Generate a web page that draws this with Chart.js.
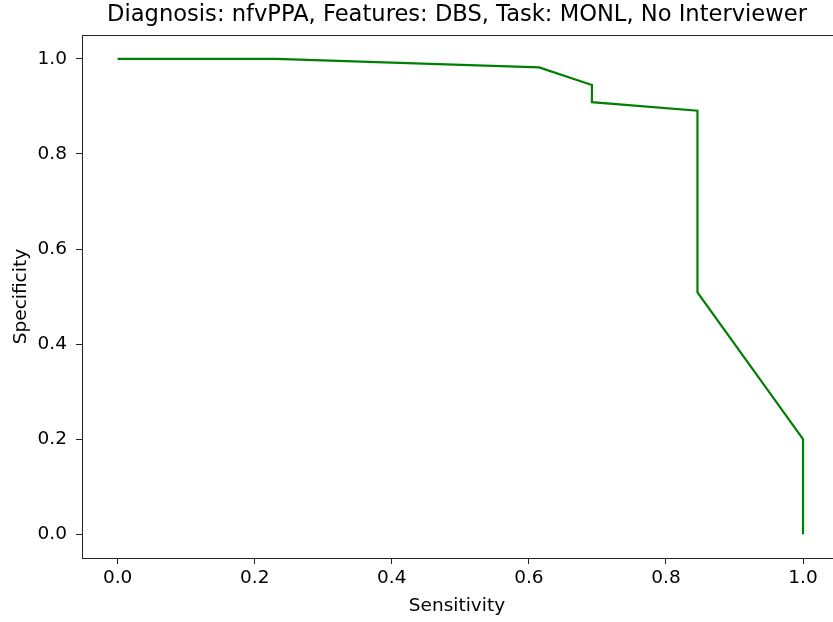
<!DOCTYPE html>
<html>
<head>
<meta charset="utf-8">
<script src="https://cdn.jsdelivr.net/npm/chart.js@4"></script>
<style>
  html, body { margin: 0; padding: 0; background: #fff; }
  #wrap { width: 833px; height: 622px; }
</style>
</head>
<body>
<div id="wrap"><canvas id="roc" width="833" height="622"></canvas></div>
<script>
// values
const sensitivity = [0.0, 0.231, 0.615, 0.692, 0.692, 0.846, 0.846, 1.0, 1.0];
const specificity = [1.0, 1.0, 0.982, 0.945, 0.909, 0.891, 0.509, 0.2, 0.0];
const tickValues = [0.0, 0.2, 0.4, 0.6, 0.8, 1.0];

const titleText = "Diagnosis: nfvPPA, Features: DBS, Task: MONL, No Interviewer";
const fontFamily = "'DejaVu Sans', sans-serif";
const tickSize = 18.5;

Chart.defaults.font.family = fontFamily;
Chart.defaults.color = "#000";

// matplotlib style box, right edge falls just outside the picture
const frame = {
    id: "frame",
    afterDraw(chart) {
        let a = chart.chartArea;
        let ctx = chart.ctx;
        ctx.save();
        ctx.strokeStyle = "#222";
        ctx.lineWidth = 1;
        ctx.strokeRect(Math.round(a.left) + 0.5, Math.round(a.top) + 0.5,
            Math.round(a.right - a.left) + 6, Math.round(a.bottom - a.top));
        ctx.restore();
    }
};

function fixedTicks(scale) {
    scale.ticks = tickValues.map(v => ({ value: v }));
}

const points = sensitivity.map((x, i) => ({ x: x, y: specificity[i] }));

new Chart(document.getElementById("roc"), {
    type: "scatter",
    data: {
        datasets: [{
            data: points,
            showLine: true,
            borderColor: "#008000",
            borderWidth: 2.2,
            pointRadius: 0,
            tension: 0,
            fill: false
        }]
    },
    options: {
        responsive: false,
        animation: false,
        layout: { padding: { left: 0, right: 1, top: 0, bottom: 0 } },
        plugins: {
            legend: { display: false },
            tooltip: { enabled: false },
            title: {
                display: true,
                text: titleText,
                fullSize: false,
                font: { size: 22.6, weight: "normal", family: fontFamily },
                color: "#000",
                padding: { top: 2, bottom: 6 }
            }
        },
        scales: {
            x: {
                type: "linear",
                min: -0.052,
                max: 1.0423,
                afterBuildTicks: fixedTicks,
                afterFit(scale) { scale.height = 64; },
                grid: {
                    drawOnChartArea: false,
                    drawTicks: true,
                    tickLength: 6,
                    tickColor: "#222"
                },
                border: { display: true, color: "#222" },
                ticks: {
                    font: { size: tickSize },
                    padding: 3,
                    maxRotation: 0,
                    callback: v => v.toFixed(1)
                },
                title: {
                    display: true,
                    text: "Sensitivity",
                    font: { size: tickSize },
                    padding: { top: 0, bottom: 5 }
                }
            },
            y: {
                type: "linear",
                min: -0.05,
                max: 1.05,
                afterBuildTicks: fixedTicks,
                afterFit(scale) { scale.width = 82; },
                grid: {
                    drawOnChartArea: false,
                    drawTicks: true,
                    tickLength: 6,
                    tickColor: "#222"
                },
                border: { display: true, color: "#222" },
                ticks: {
                    font: { size: tickSize },
                    padding: 9,
                    callback: v => v.toFixed(1)
                },
                title: {
                    display: true,
                    text: "Specificity",
                    font: { size: tickSize },
                    padding: { top: 10, bottom: 0 }
                }
            }
        }
    },
    plugins: [frame]
});
</script>
</body>
</html>
